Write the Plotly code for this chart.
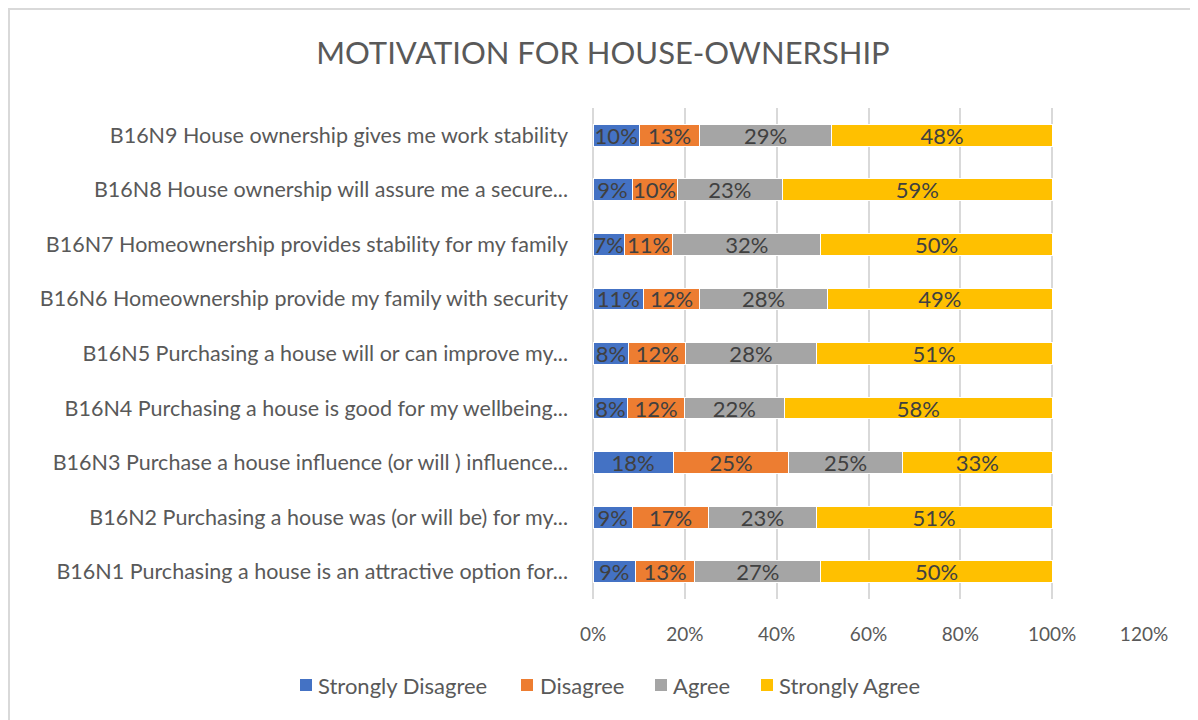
import plotly.graph_objects as go

categories = [
    "B16N1 Purchasing a house is an attractive option for...",
    "B16N2 Purchasing a house was (or will be) for my...",
    "B16N3 Purchase a house influence (or will ) influence...",
    "B16N4 Purchasing a house is good for my wellbeing...",
    "B16N5 Purchasing a house will or can improve my...",
    "B16N6 Homeownership provide my family with security",
    "B16N7 Homeownership provides stability for my family",
    "B16N8 House ownership will assure me a secure...",
    "B16N9 House ownership gives me work stability",
]
strongly_disagree = [9.2, 8.6, 17.5, 7.6, 7.8, 11.0, 6.8, 8.5, 10.1]
disagree = [13.0, 16.6, 25.1, 12.3, 12.4, 12.2, 10.6, 9.8, 13.1]
agree = [27.4, 23.4, 24.8, 21.8, 28.4, 27.9, 32.2, 23.0, 28.8]
strongly_agree = [50.4, 51.4, 32.6, 58.3, 51.4, 48.9, 50.4, 58.7, 48.0]

series_names = ["Strongly Disagree", "Disagree", "Agree", "Strongly Agree"]
series_values = [strongly_disagree, disagree, agree, strongly_agree]
series_colors = ["#4472C4", "#ED7D31", "#A5A5A5", "#FFC000"]
x_ticks = [0, 20, 40, 60, 80, 100, 120]
x_tick_labels = ["0%", "20%", "40%", "60%", "80%", "100%", "120%"]

FONT = "Lato"
TXT = "#595959"

W, H = 1198, 720
ml, mr, mt, mb = 585, 62, 100, 129
pw = W - ml - mr
ph = H - mt - mb
bottom = mt + ph


def px(x):
    return (x - ml) / pw


def py(y):
    return (bottom - y) / ph


fig = go.Figure()
for name, vals, color in zip(series_names, series_values, series_colors):
    fig.add_trace(go.Bar(
        y=categories, x=vals, name=name, orientation="h",
        marker=dict(color=color, line=dict(color="white", width=1)),
        texttemplate="%{x:.0f}%", textposition="inside",
        insidetextanchor="middle", textangle=0,
        textfont=dict(family=FONT, size=22, color="#404040"),
        constraintext="none", showlegend=False,
    ))

fig.update_layout(
    width=W, height=H,
    barmode="stack", bargap=0.6,
    margin=dict(l=ml, r=mr, t=mt, b=mb, autoexpand=False),
    paper_bgcolor="white", plot_bgcolor="white",
    font=dict(family=FONT, color=TXT),
    title=dict(text="MOTIVATION FOR HOUSE-OWNERSHIP", x=px(595), xref="paper",
               xanchor="center", y=1 - 45 / H, yanchor="middle",
               font=dict(family=FONT, size=31, color=TXT)),
    xaxis=dict(range=[0, 120], tickvals=x_ticks, ticktext=x_tick_labels,
               showgrid=True, gridcolor="#D9D9D9", gridwidth=1.5,
               zeroline=True, zerolinecolor="#D9D9D9", zerolinewidth=1.5,
               tickfont=dict(family=FONT, size=19, color=TXT),
               ticks="", ticklabelstandoff=22, fixedrange=True),
    yaxis=dict(tickfont=dict(family=FONT, size=21.5, color=TXT),
               ticks="", ticklabelstandoff=24, showgrid=False),
    showlegend=False,
)

# manual legend (squares + labels)
legend_sq_x = [292, 513, 647, 753]
legend_txt_x = [308, 530, 663, 769]
legend_y = 677
for name, color, sx, tx in zip(series_names, series_colors, legend_sq_x, legend_txt_x):
    fig.add_shape(type="rect", xref="paper", yref="paper",
                  x0=px(sx), x1=px(sx + 12), y0=py(legend_y + 6), y1=py(legend_y - 6),
                  line=dict(width=0), fillcolor=color)
    fig.add_annotation(text=name, xref="paper", yref="paper", x=px(tx), y=py(legend_y),
                       xanchor="left", yanchor="middle", showarrow=False,
                       font=dict(family=FONT, size=22, color=TXT))

# chart frame
fig.add_shape(type="rect", xref="paper", yref="paper",
              x0=px(1), x1=px(W + 20), y0=py(H + 20), y1=py(1),
              line=dict(color="#D9D9D9", width=2), fillcolor="rgba(0,0,0,0)", layer="below")

fig.write_html("out.html")
